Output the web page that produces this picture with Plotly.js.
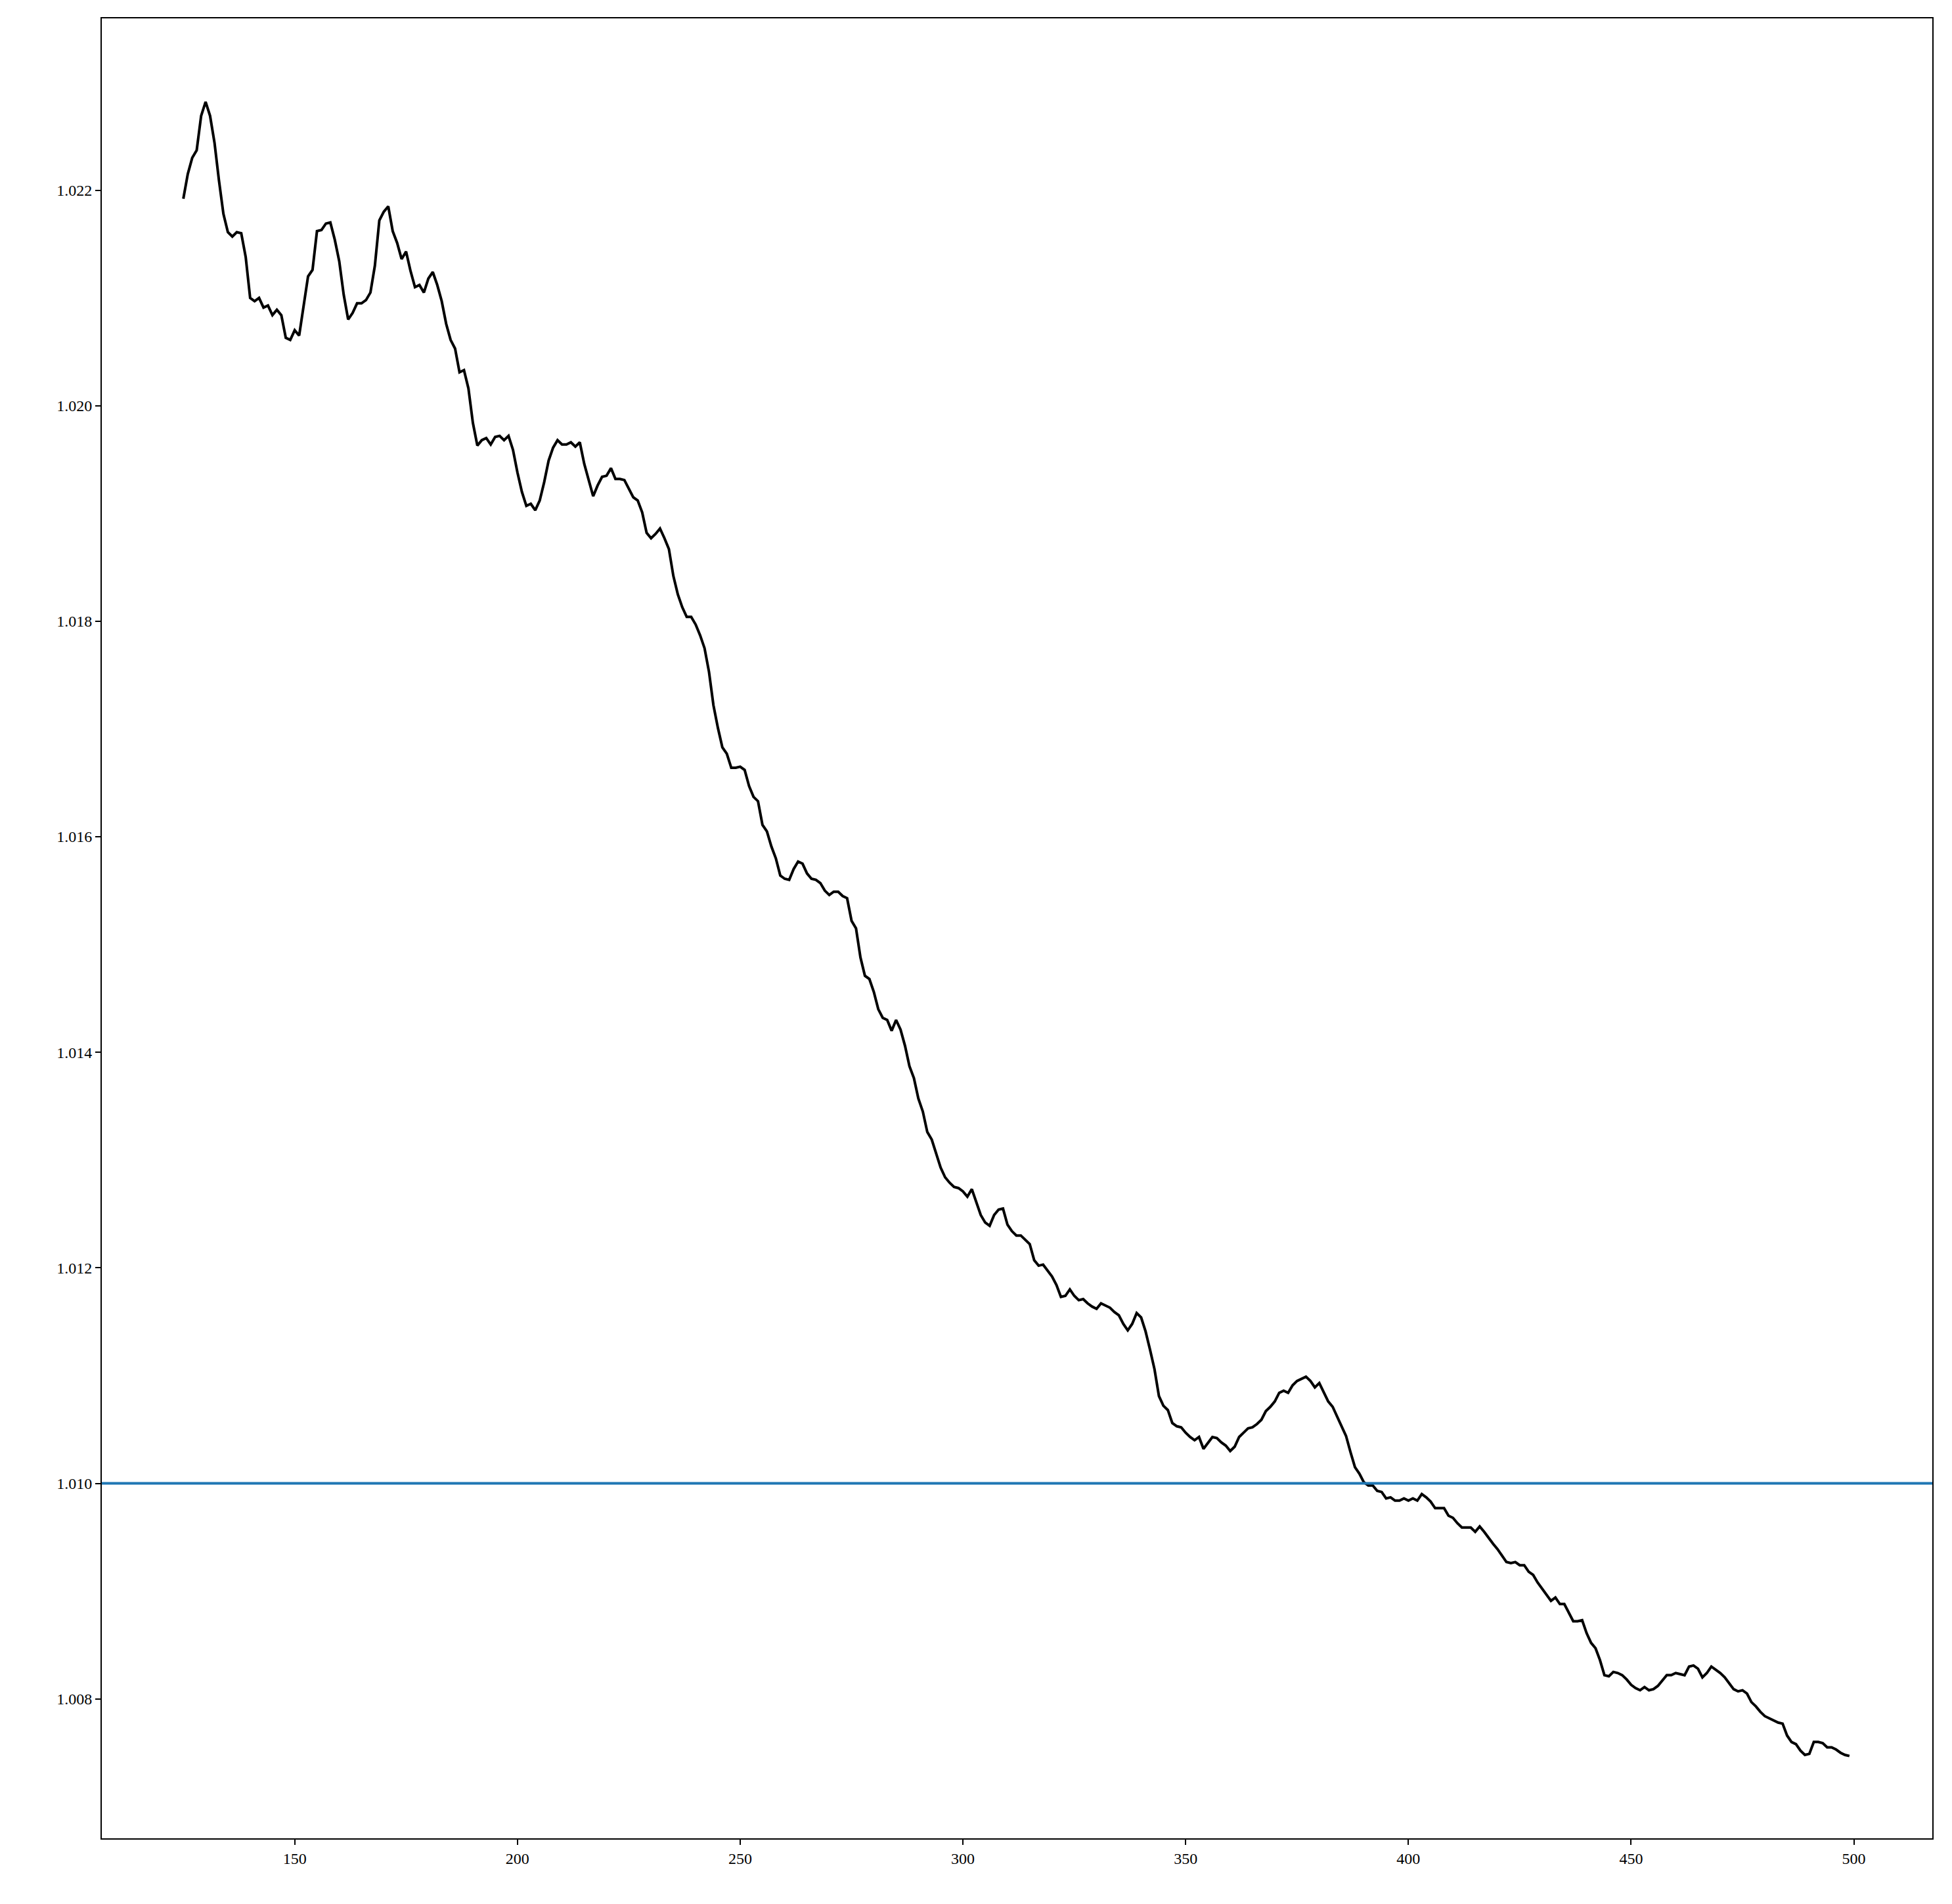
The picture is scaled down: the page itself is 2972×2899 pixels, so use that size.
<!DOCTYPE html>
<html>
<head>
<meta charset="utf-8">
<script src="https://cdn.plot.ly/plotly-3.0.1.min.js"></script>
<style>html,body{margin:0;padding:0;background:#fff}</style>
</head>
<body>
<div id="chart" style="width:2972px;height:2899px"></div>
<script>
// series starts at x = 125, one value per step
const xStart = 125;
const values = [
  1.02192, 1.02215, 1.0223, 1.02237, 1.02269, 1.02282, 1.02269, 1.02244, 1.02209, 1.02178,
  1.02161, 1.02157, 1.02161, 1.0216, 1.02138, 1.021, 1.02097, 1.021, 1.02091, 1.02093,
  1.02084, 1.02089, 1.02084, 1.02063, 1.02061, 1.0207, 1.02065, 1.02094, 1.0212, 1.02126,
  1.02162, 1.02163, 1.02169, 1.0217, 1.02154, 1.02134, 1.02103, 1.0208, 1.02086, 1.02095,
  1.02095, 1.02098, 1.02105, 1.0213, 1.02172, 1.0218, 1.02185, 1.02162, 1.02151, 1.02136,
  1.02143, 1.02125, 1.0211, 1.02112, 1.02105, 1.02118, 1.02124, 1.02112, 1.02097, 1.02076,
  1.02061, 1.02053, 1.02031, 1.02033, 1.02016, 1.01984, 1.01963, 1.01968, 1.0197, 1.01964,
  1.01971, 1.01972, 1.01968, 1.01972, 1.01959, 1.01938, 1.0192, 1.01907, 1.01909, 1.01903,
  1.01912, 1.01929, 1.01949, 1.01961, 1.01968, 1.01964, 1.01964, 1.01966, 1.01962, 1.01966,
  1.01946, 1.01931, 1.01916, 1.01926, 1.01934, 1.01935, 1.01942, 1.01932, 1.01932, 1.01931,
  1.01923, 1.01915, 1.01912, 1.01901, 1.01882, 1.01877, 1.01881, 1.01886, 1.01877, 1.01867,
  1.01842, 1.01825, 1.01813, 1.01804, 1.01804, 1.01797, 1.01787, 1.01775, 1.01753, 1.01722,
  1.01701, 1.01683, 1.01677, 1.01664, 1.01664, 1.01665, 1.01662, 1.01647, 1.01637, 1.01633,
  1.01611, 1.01605, 1.01591, 1.0158, 1.01564, 1.01561, 1.0156, 1.0157, 1.01577, 1.01575,
  1.01566, 1.01561, 1.0156, 1.01557, 1.0155, 1.01546, 1.01549, 1.01549, 1.01545, 1.01543,
  1.01522, 1.01515, 1.01488, 1.01471, 1.01468, 1.01456, 1.0144, 1.01432, 1.0143, 1.0142,
  1.0143, 1.01421, 1.01406, 1.01387, 1.01376, 1.01357, 1.01345, 1.01326, 1.01319, 1.01306,
  1.01293, 1.01284, 1.01279, 1.01275, 1.01274, 1.01271, 1.01266, 1.01273, 1.0126, 1.01249,
  1.01242, 1.01239, 1.01249, 1.01254, 1.01255, 1.0124, 1.01234, 1.0123, 1.0123, 1.01226,
  1.01222, 1.01207, 1.01202, 1.01203, 1.01197, 1.01192, 1.01184, 1.01173, 1.01174, 1.0118,
  1.01174, 1.0117, 1.01171, 1.01167, 1.01164, 1.01162, 1.01167, 1.01165, 1.01163, 1.01159,
  1.01156, 1.01148, 1.01142, 1.01148, 1.01158, 1.01154, 1.01141, 1.01124, 1.01106, 1.01081,
  1.01072, 1.01068, 1.01056, 1.01053, 1.01052, 1.01047, 1.01043, 1.0104, 1.01043, 1.01032,
  1.01038, 1.01043, 1.01042, 1.01038, 1.01035, 1.0103, 1.01034, 1.01043, 1.01047, 1.01051,
  1.01052, 1.01055, 1.01059, 1.01067, 1.01071, 1.01076, 1.01084, 1.01086, 1.01084, 1.01091,
  1.01095, 1.01097, 1.01099, 1.01095, 1.01089, 1.01093, 1.01084, 1.01076, 1.01071, 1.01062,
  1.01053, 1.01044, 1.01029, 1.01015, 1.01009, 1.01001, 1.00998, 1.00998, 1.00993, 1.00992,
  1.00986, 1.00987, 1.00984, 1.00984, 1.00986, 1.00984, 1.00986, 1.00984, 1.0099, 1.00987,
  1.00983, 1.00977, 1.00977, 1.00977, 1.0097, 1.00968, 1.00963, 1.00959, 1.00959, 1.00959,
  1.00955, 1.0096, 1.00955, 1.00949, 1.00944, 1.00939, 1.00933, 1.00927, 1.00926, 1.00927,
  1.00924, 1.00924, 1.00918, 1.00915, 1.00908, 1.00902, 1.00897, 1.00891, 1.00894, 1.00888,
  1.00888, 1.0088, 1.00872, 1.00872, 1.00873, 1.00861, 1.00852, 1.00847, 1.00836, 1.00822,
  1.00821, 1.00825, 1.00824, 1.00822, 1.00818, 1.00813, 1.0081, 1.00808, 1.00811, 1.00808,
  1.00809, 1.00812, 1.00817, 1.00822, 1.00822, 1.00824, 1.00823, 1.00822, 1.0083, 1.00831,
  1.00828, 1.0082, 1.00824, 1.0083, 1.00827, 1.00824, 1.0082, 1.00814, 1.00809, 1.00807,
  1.00808, 1.00805, 1.00797, 1.00793, 1.00788, 1.00784, 1.00782, 1.0078, 1.00778, 1.00777,
  1.00766, 1.0076, 1.00758, 1.00752, 1.00748, 1.00749, 1.0076, 1.0076, 1.00759, 1.00755,
  1.00755, 1.00753, 1.0075, 1.00748, 1.00747
];
const xs = values.map((v, i) => xStart + i);
const refLevel = 1.010;
const xTicks = [150, 200, 250, 300, 350, 400, 450, 500];
const yTicks = [1.008, 1.010, 1.012, 1.014, 1.016, 1.018, 1.020, 1.022];

const axisBase = {
  showgrid: false, zeroline: false, showline: true, mirror: true,
  linecolor: '#000', linewidth: 2, ticks: 'outside', ticklen: 8, tickwidth: 2,
  tickcolor: '#000', tickmode: 'array',
};

const layout = {
  paper_bgcolor: '#fff',
  plot_bgcolor: '#fff',
  font: { family: 'Liberation Serif, Times New Roman, serif', color: '#000', size: 24 },
  margin: { l: 155, r: 30, t: 28, b: 100 },
  showlegend: false,
  xaxis: Object.assign({}, axisBase, { range: [106.7, 517.6], tickvals: xTicks }),
  yaxis: Object.assign({}, axisBase, {
    range: [1.006706, 1.023594], tickvals: yTicks,
    ticktext: yTicks.map(v => v.toFixed(3)),
  }),
  shapes: [{
    type: 'line', xref: 'paper', x0: 0, x1: 1, yref: 'y', y0: refLevel, y1: refLevel,
    line: { color: '#1f77b4', width: 4 },
  }],
};

const trace = {
  x: xs, y: values, type: 'scatter', mode: 'lines',
  line: { color: '#000', width: 4 },
};

Plotly.newPlot('chart', [trace], layout, { staticPlot: true });
</script>
</body>
</html>
